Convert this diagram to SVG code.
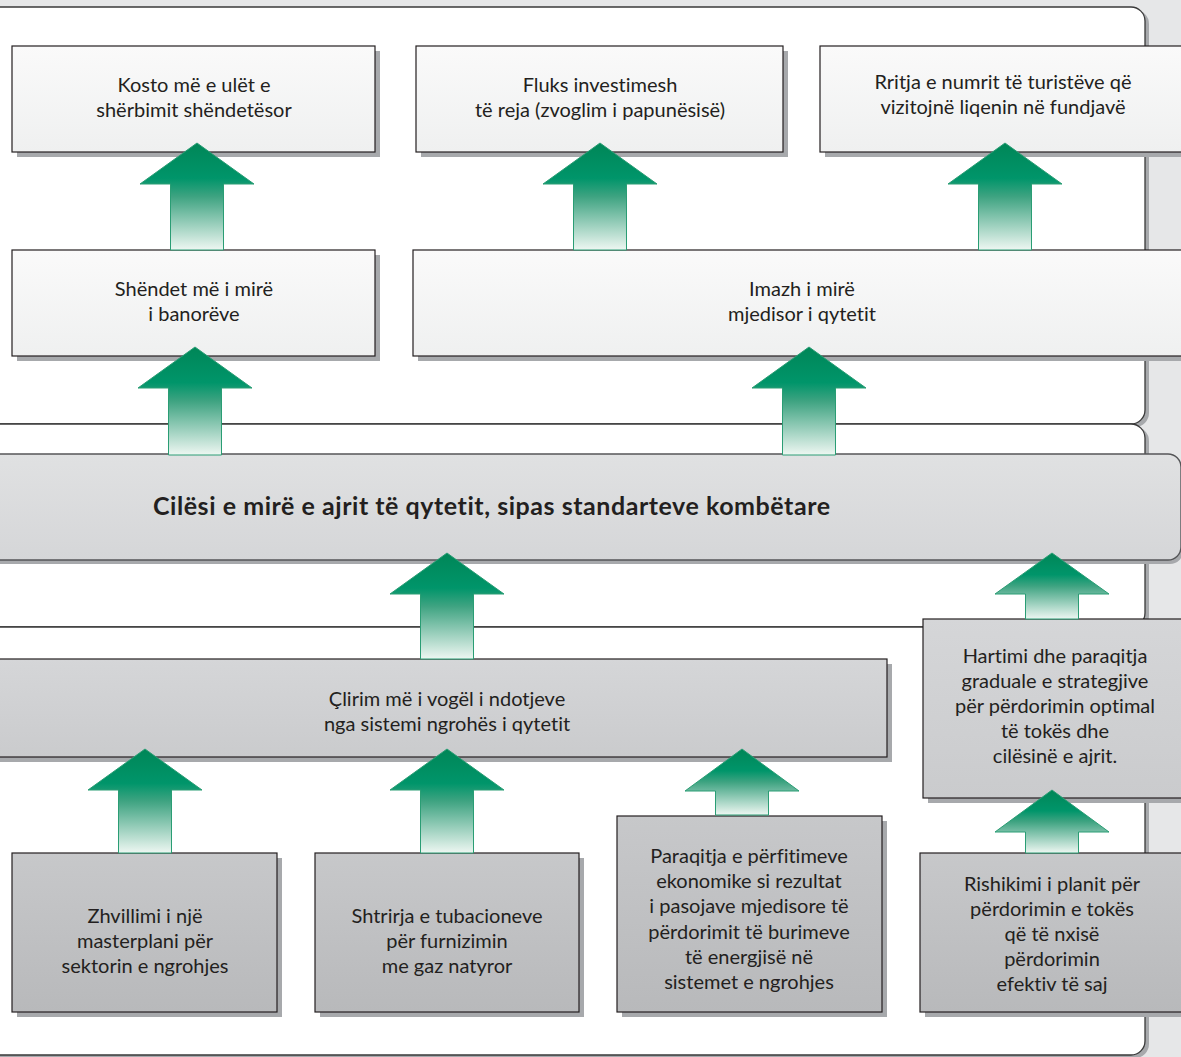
<svg xmlns="http://www.w3.org/2000/svg" width="1181" height="1057" viewBox="0 0 1181 1057">
<defs>
  <linearGradient id="gArrow" x1="0" y1="0" x2="0" y2="1">
    <stop offset="0" stop-color="#008657"/>
    <stop offset="0.33" stop-color="#00956a"/>
    <stop offset="0.5" stop-color="#3ea381"/>
    <stop offset="1" stop-color="#eef7f2"/>
  </linearGradient>
  <linearGradient id="gLight" x1="0" y1="0" x2="0" y2="1">
    <stop offset="0" stop-color="#fafafa"/>
    <stop offset="1" stop-color="#eff0f0"/>
  </linearGradient>
  <linearGradient id="gMain" x1="0" y1="0" x2="0" y2="1">
    <stop offset="0" stop-color="#e0e1e2"/>
    <stop offset="1" stop-color="#d5d6d8"/>
  </linearGradient>
  <linearGradient id="gMid" x1="0" y1="0" x2="0" y2="1">
    <stop offset="0" stop-color="#d5d6d8"/>
    <stop offset="1" stop-color="#cacbcd"/>
  </linearGradient>
  <linearGradient id="gDark" x1="0" y1="0" x2="0" y2="1">
    <stop offset="0" stop-color="#c7c8ca"/>
    <stop offset="1" stop-color="#b8b9bb"/>
  </linearGradient>
</defs>
<style>
  .panel { fill: #ffffff; stroke: #3a3a3a; stroke-width: 1.3; }
  .pshadow { fill: #a7a9ac; }
  .shadow { fill: #a7a9ac; }
  .box { stroke: #231f20; stroke-width: 1.2; }
  .light { fill: url(#gLight); }
  .mid { fill: url(#gMid); }
  .dark { fill: url(#gDark); }
  .arrow { fill: url(#gArrow); stroke: #2a9d74; stroke-width: 1; }
  text { font-family: Lato, "Liberation Sans", sans-serif; font-size: 20px; fill: #231f20; text-anchor: middle; font-variant-ligatures: none; }
  .title { font-weight: bold; font-size: 25px; text-anchor: start; }
</style>

<rect x="0" y="0" width="1181" height="1057" fill="#e6e7e8"/>

<g id="panels">
  <rect class="pshadow" x="-20" y="10" width="1169" height="417" rx="14"/>
  <rect class="panel" x="-20" y="7" width="1165" height="417" rx="14"/>
  <rect class="pshadow" x="-20" y="427" width="1169" height="203" rx="14"/>
  <rect class="panel" x="-20" y="424" width="1165" height="203" rx="14"/>
  <rect class="pshadow" x="-20" y="630" width="1169" height="428" rx="14"/>
  <rect class="panel" x="-20" y="627" width="1165" height="428" rx="14"/>
</g>

<g id="n-kosto">
  <rect class="shadow" x="17" y="51" width="363" height="106"/>
  <rect class="box light" x="12" y="46" width="363" height="106"/>
  <text x="194" y="92">Kosto më e ulët e</text>
  <text x="194" y="117">shërbimit shëndetësor</text>
</g>
<g id="n-fluks">
  <rect class="shadow" x="421" y="51" width="367" height="106"/>
  <rect class="box light" x="416" y="46" width="367" height="106"/>
  <text x="600" y="92">Fluks investimesh</text>
  <text x="600" y="117">të reja (zvoglim i papunësisë)</text>
</g>
<g id="n-rritja">
  <rect class="shadow" x="825" y="51" width="370" height="106"/>
  <rect class="box light" x="820" y="46" width="370" height="106"/>
  <text x="1003" y="89">Rritja e numrit të turistëve që</text>
  <text x="1003" y="114">vizitojnë liqenin në fundjavë</text>
</g>
<g id="n-shendet">
  <rect class="shadow" x="17" y="255" width="363" height="106"/>
  <rect class="box light" x="12" y="250" width="363" height="106"/>
  <text x="194" y="296">Shëndet më i mirë</text>
  <text x="194" y="321">i banorëve</text>
</g>
<g id="n-imazh">
  <rect class="shadow" x="418" y="255" width="780" height="106"/>
  <rect class="box light" x="413" y="250" width="780" height="106"/>
  <text x="802" y="296">Imazh i mirë</text>
  <text x="802" y="321">mjedisor i qytetit</text>
</g>
<g id="n-cilesi">
  <rect class="shadow" x="-20" y="458" width="1203" height="106" rx="13"/>
  <rect x="-20" y="454" width="1201" height="106" rx="13" fill="url(#gMain)" stroke="#555658" stroke-width="1.4"/>
  <text class="title" x="153" y="515" textLength="677" lengthAdjust="spacing">Cilësi e mirë e ajrit të qytetit, sipas standarteve kombëtare</text>
</g>
<g id="n-clirim">
  <rect class="shadow" x="-15" y="664" width="907" height="98"/>
  <rect class="box mid" x="-20" y="659" width="907" height="98"/>
  <text x="447" y="706">Çlirim më i vogël i ndotjeve</text>
  <text x="447" y="731">nga sistemi ngrohës i qytetit</text>
</g>
<g id="n-hartimi">
  <rect class="shadow" x="928" y="624" width="270" height="179"/>
  <rect class="box mid" x="923" y="619" width="270" height="179"/>
  <text x="1055" y="663">Hartimi dhe paraqitja</text>
  <text x="1055" y="688">graduale e strategjive</text>
  <text x="1055" y="713">për përdorimin optimal</text>
  <text x="1055" y="738">të tokës dhe</text>
  <text x="1055" y="763">cilësinë e ajrit.</text>
</g>
<g id="n-zhvillimi">
  <rect class="shadow" x="17" y="858" width="265" height="159"/>
  <rect class="box dark" x="12" y="853" width="265" height="159"/>
  <text x="145" y="923">Zhvillimi i një</text>
  <text x="145" y="948">masterplani për</text>
  <text x="145" y="973">sektorin e ngrohjes</text>
</g>
<g id="n-shtrirja">
  <rect class="shadow" x="320" y="858" width="264" height="159"/>
  <rect class="box dark" x="315" y="853" width="264" height="159"/>
  <text x="447" y="923">Shtrirja e tubacioneve</text>
  <text x="447" y="948">për furnizimin</text>
  <text x="447" y="973">me gaz natyror</text>
</g>
<g id="n-paraqitja">
  <rect class="shadow" x="622" y="821" width="265" height="196"/>
  <rect class="box dark" x="617" y="816" width="265" height="196"/>
  <text x="749" y="863">Paraqitja e përfitimeve</text>
  <text x="749" y="888">ekonomike si rezultat</text>
  <text x="749" y="913">i pasojave mjedisore të</text>
  <text x="749" y="939">përdorimit të burimeve</text>
  <text x="749" y="964">të energjisë në</text>
  <text x="749" y="989">sistemet e ngrohjes</text>
</g>
<g id="n-rishikimi">
  <rect class="shadow" x="925" y="858" width="270" height="159"/>
  <rect class="box dark" x="920" y="853" width="270" height="159"/>
  <text x="1052" y="891">Rishikimi i planit për</text>
  <text x="1052" y="916">përdorimin e tokës</text>
  <text x="1052" y="941">që të nxisë</text>
  <text x="1052" y="966">përdorimin</text>
  <text x="1052" y="991">efektiv të saj</text>
</g>

<g id="connectors">
  <path class="arrow" d="M197,143 L254,184 L223.5,184 L223.5,250 L170.5,250 L170.5,184 L140,184 Z"/>
  <path class="arrow" d="M600,143 L657,184 L626.5,184 L626.5,250 L573.5,250 L573.5,184 L543,184 Z"/>
  <path class="arrow" d="M1005,143 L1062,184 L1031.5,184 L1031.5,250 L978.5,250 L978.5,184 L948,184 Z"/>
  <path class="arrow" d="M195,347 L252,388 L221.5,388 L221.5,455 L168.5,455 L168.5,388 L138,388 Z"/>
  <path class="arrow" d="M809,347 L866,388 L835.5,388 L835.5,455 L782.5,455 L782.5,388 L752,388 Z"/>
  <path class="arrow" d="M447,553 L504,594 L473.5,594 L473.5,659 L420.5,659 L420.5,594 L390,594 Z"/>
  <path class="arrow" d="M1052,553 L1109,594 L1078.5,594 L1078.5,619 L1025.5,619 L1025.5,594 L995,594 Z"/>
  <path class="arrow" d="M145,749 L202,790 L171.5,790 L171.5,853 L118.5,853 L118.5,790 L88,790 Z"/>
  <path class="arrow" d="M447,749 L504,790 L473.5,790 L473.5,853 L420.5,853 L420.5,790 L390,790 Z"/>
  <path class="arrow" d="M742,749 L799,791 L768.5,791 L768.5,815 L715.5,815 L715.5,791 L685,791 Z"/>
  <path class="arrow" d="M1052,790 L1109,832 L1078.5,832 L1078.5,853 L1025.5,853 L1025.5,832 L995,832 Z"/>
</g>
</svg>
